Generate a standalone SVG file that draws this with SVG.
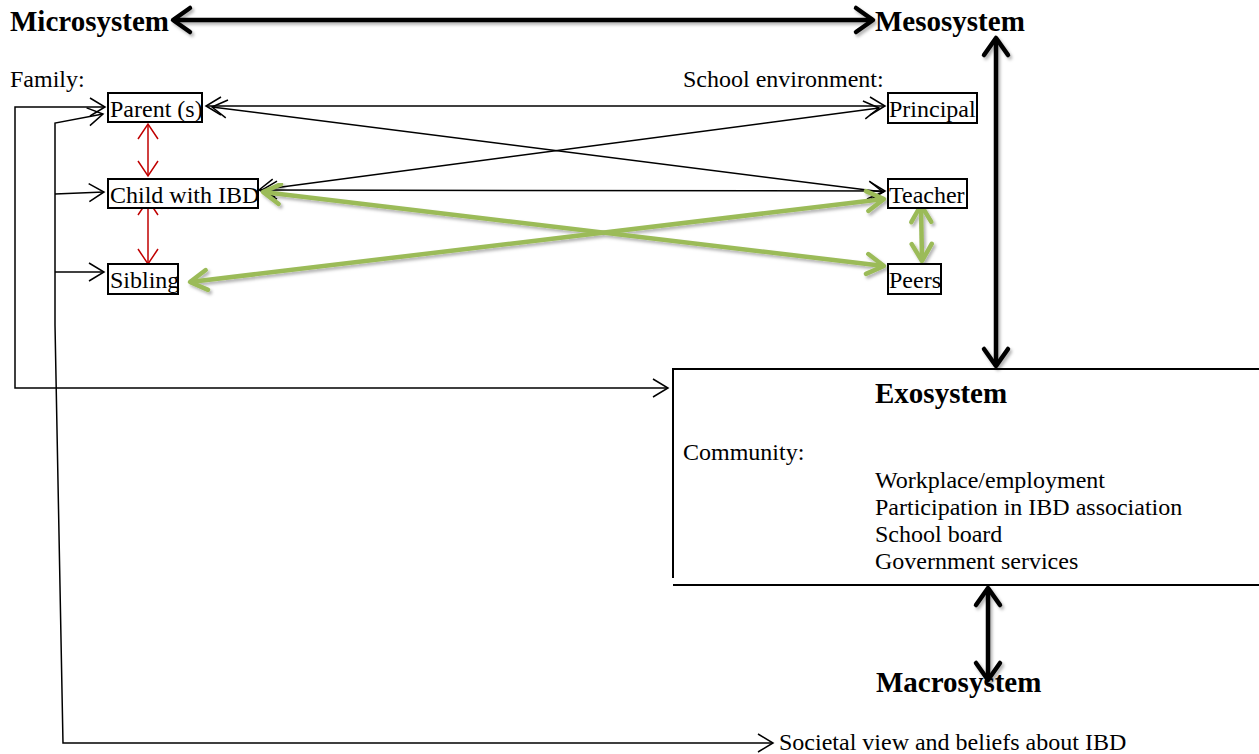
<svg xmlns="http://www.w3.org/2000/svg" width="1259" height="754" viewBox="0 0 1259 754">
<style>
text{font-family:"Liberation Serif","Times New Roman",serif;fill:#000}
.h{font-size:29px;font-weight:bold}
.t{font-size:24px}
.box{fill:#fff;stroke:#000;stroke-width:2}
.thin{fill:none;stroke:#000;stroke-width:1.5}
.red{fill:none;stroke:#c00000;stroke-width:1.5}
.thick{fill:none;stroke:#000;stroke-width:4.5}
.green{fill:none;stroke:#9bbb59;stroke-width:4.5}
.edge{fill:none;stroke:#000;stroke-width:2}
</style>
<defs>
<filter id="sh" x="-10%" y="-10%" width="130%" height="130%">
<feDropShadow dx="2" dy="2.5" stdDeviation="1.5" flood-color="#000" flood-opacity="0.3"/>
</filter>
<marker id="aThin" markerUnits="userSpaceOnUse" markerWidth="18" markerHeight="20" refX="15" refY="9" orient="auto-start-reverse" overflow="visible">
<path d="M0,0 L15,9 L0,18" fill="none" stroke="#000" stroke-width="1.5"/>
</marker>
<marker id="aRed" markerUnits="userSpaceOnUse" markerWidth="22" markerHeight="18" refX="15" refY="10" orient="auto-start-reverse" overflow="visible">
<path d="M0,0 L15,10 L0,20" fill="none" stroke="#c00000" stroke-width="1.5"/>
</marker>
<marker id="aThick" markerUnits="userSpaceOnUse" markerWidth="22" markerHeight="26" refX="17" refY="12" orient="auto-start-reverse" overflow="visible">
<path d="M0,0 L17,12 L0,24" fill="none" stroke="#000" stroke-width="4.5" stroke-linejoin="round" stroke-linecap="round"/>
</marker>
<marker id="aGreen" markerUnits="userSpaceOnUse" markerWidth="22" markerHeight="22" refX="17" refY="10" orient="auto-start-reverse" overflow="visible">
<path d="M0,0 L17,10 L0,20" fill="none" stroke="#9bbb59" stroke-width="4.5" stroke-linejoin="round" stroke-linecap="round"/>
</marker>
</defs>
<rect width="1259" height="754" fill="#fff"/>

<g id="connectors">
<!-- family brackets -->
<path class="thin" d="M105,107 L15,107 L15,388 L668,388" marker-start="url(#aThin)" marker-end="url(#aThin)"/>
<path class="thin" d="M103,114 L55,123 L55,325 L63,743 L773,743" marker-start="url(#aThin)" marker-end="url(#aThin)"/>
<path class="thin" d="M55,194 L104,192" marker-end="url(#aThin)"/>
<path class="thin" d="M55,272 L104,272" marker-end="url(#aThin)"/>
<!-- red sibling links -->
<path class="red" d="M148,124 L148,176" marker-start="url(#aRed)" marker-end="url(#aRed)"/>
<path class="red" d="M148,200 L148,264" marker-start="url(#aRed)" marker-end="url(#aRed)"/>
<!-- thin school links -->
<path class="thin" d="M206,106 L885,106" marker-start="url(#aThin)" marker-end="url(#aThin)"/>
<path class="thin" d="M212,107 L883,192" marker-start="url(#aThin)" marker-end="url(#aThin)"/>
<path class="thin" d="M259,190 L879,108" marker-start="url(#aThin)" marker-end="url(#aThin)"/>
<path class="thin" d="M262,190 L885,191" marker-start="url(#aThin)" marker-end="url(#aThin)"/>
<!-- green links -->
<g filter="url(#sh)">
<path class="green" d="M263,192 L884,266" marker-start="url(#aGreen)" marker-end="url(#aGreen)"/>
<path class="green" d="M190,282 L884,199" marker-start="url(#aGreen)" marker-end="url(#aGreen)"/>
<path class="green" d="M921,205 L922,261" marker-start="url(#aGreen)" marker-end="url(#aGreen)"/>
</g>
<!-- thick system links -->
<g filter="url(#sh)">
<path class="thick" d="M173,20 L873,20" marker-start="url(#aThick)" marker-end="url(#aThick)"/>
<path class="thick" d="M996,38 L996,366" marker-start="url(#aThick)" marker-end="url(#aThick)"/>
<path class="thick" d="M988,588 L988,680" marker-start="url(#aThick)" marker-end="url(#aThick)"/>
</g>
</g>

<g id="microsystem"><text class="h" x="10" y="31">Microsystem</text></g>
<g id="mesosystem"><text class="h" x="875" y="31">Mesosystem</text></g>
<g id="family-label"><text class="t" x="10" y="87">Family:</text></g>
<g id="school-label"><text class="t" x="683" y="87">School environment:</text></g>

<g id="parent"><rect class="box" x="108" y="93" width="94" height="29"/><text class="t" x="110" y="117">Parent (s)</text></g>
<g id="child"><rect class="box" x="108" y="179" width="150" height="29"/><text class="t" x="110" y="203">Child with IBD</text></g>
<g id="sibling"><rect class="box" x="108" y="264" width="70" height="30"/><text class="t" x="110" y="288">Sibling</text></g>
<g id="principal"><rect class="box" x="888" y="93" width="89" height="30"/><text class="t" x="889" y="117">Principal</text></g>
<g id="teacher"><rect class="box" x="888" y="179" width="79" height="29"/><text class="t" x="889" y="203">Teacher</text></g>
<g id="peers"><rect class="box" x="888" y="264" width="53" height="30"/><text class="t" x="889" y="288">Peers</text></g>

<g id="exosystem">
<path class="edge" d="M673,578 L673,369 L1259,369"/>
<path class="edge" d="M673,585 L1259,585"/>
<text class="h" x="875" y="403">Exosystem</text>
<text class="t" x="683" y="460">Community:</text>
<text class="t" x="875" y="488">Workplace/employment</text>
<text class="t" x="875" y="515">Participation in IBD association</text>
<text class="t" x="875" y="542">School board</text>
<text class="t" x="875" y="569">Government services</text>
</g>

<g id="macrosystem">
<text class="h" x="876" y="692">Macrosystem</text>
<text class="t" x="779" y="750">Societal view and beliefs about IBD</text>
</g>
</svg>
